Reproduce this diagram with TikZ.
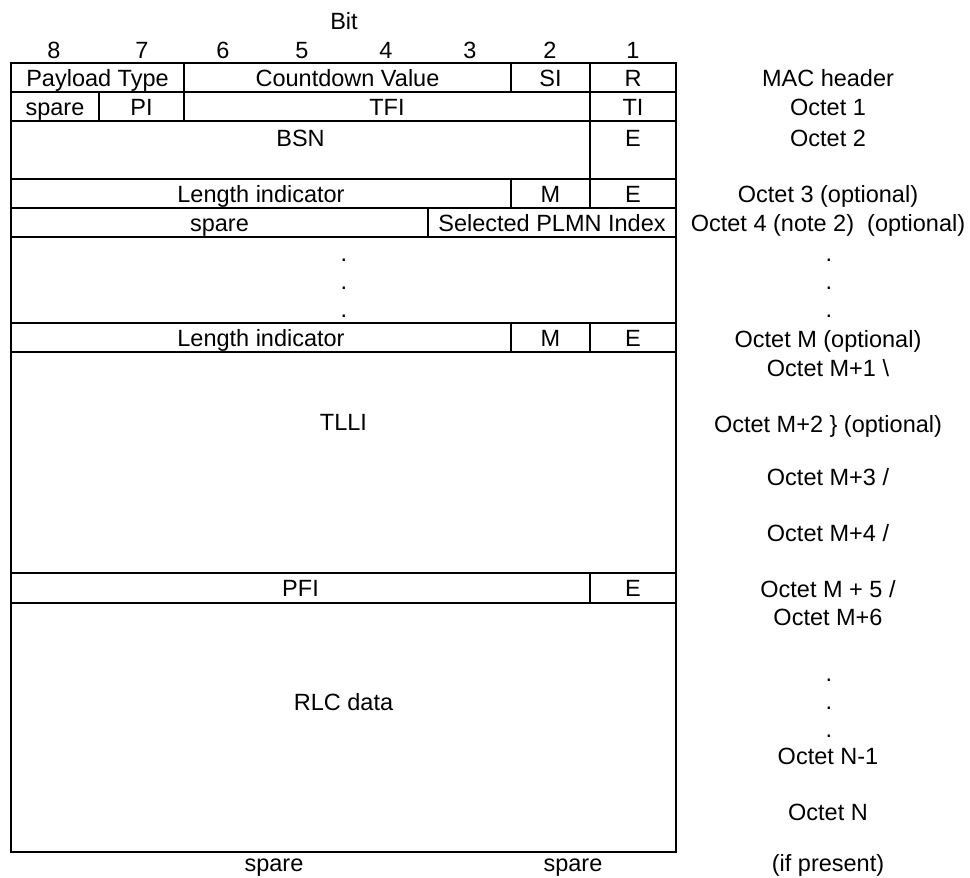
\documentclass[tikz,border=0pt]{standalone}
\usepackage{fontspec}
\setmainfont{Liberation Sans}
\begin{document}
\begin{tikzpicture}[x=1pt,y=-1pt,
  lbl/.style={font=\fontsize{23.5}{28}\selectfont, inner sep=0pt, anchor=base},
  gridline/.style={line width=1.5pt, line cap=rect}]
\fill[white] (0,0) rectangle (970,878);
\useasboundingbox (0,0) rectangle (970,878);
% frame and rows
\draw[gridline] (11,63) rectangle (676,852);
\foreach \yy in {92,121,179,208,237,323,352,573,603}
  \draw[gridline] (11,\yy) -- (676,\yy);
% vertical dividers
\foreach \xx in {184,511,590} \draw[gridline] (\xx,63) -- (\xx,92);
\foreach \xx in {99,184,590} \draw[gridline] (\xx,92) -- (\xx,121);
\draw[gridline] (590,121) -- (590,179);
\foreach \xx in {511,590} \draw[gridline] (\xx,179) -- (\xx,208);
\draw[gridline] (428,208) -- (428,237);
\foreach \xx in {511,590} \draw[gridline] (\xx,323) -- (\xx,352);
\draw[gridline] (590,573) -- (590,603);
% header
\node[lbl] (bit) at (344,30) {Bit};
\node[lbl] (b8) at (54,58.4) {8};
\node[lbl] (b7) at (142,58.4) {7};
\node[lbl] (b6) at (223,58.4) {6};
\node[lbl] (b5) at (302,58.4) {5};
\node[lbl] (b4) at (386,58.4) {4};
\node[lbl] (b3) at (470,58.4) {3};
\node[lbl] (b2) at (550,58.4) {2};
\node[lbl] (b1) at (633,58.4) {1};
% row 1
\node[lbl] (pt) at (97.5,86) {Payload Type};
\node[lbl] (cv) at (347.5,86) {Countdown Value};
\node[lbl] (si) at (550.5,86) {SI};
\node[lbl] (r) at (633,86) {R};
% row 2
\node[lbl] (sp1) at (55,115) {spare};
\node[lbl] (pi) at (141.5,115) {PI};
\node[lbl] (tfi) at (387,115) {TFI};
\node[lbl] (ti) at (633,115) {TI};
% row 3
\node[lbl] (bsn) at (300.5,146) {BSN};
\node[lbl] (e1) at (633,146) {E};
% row 4
\node[lbl] (li1) at (261,202) {Length indicator};
\node[lbl] (m1) at (550.5,202) {M};
\node[lbl] (e2) at (633,202) {E};
% row 5
\node[lbl] (sp2) at (219.5,231) {spare};
\node[lbl] (plmn) at (552,231) {Selected PLMN Index};
% dots
\node[lbl] (d1) at (344,261) {.};
\node[lbl] (d2) at (344,289) {.};
\node[lbl] (d3) at (344,317) {.};
% row 7
\node[lbl] (li2) at (261,346) {Length indicator};
\node[lbl] (m2) at (550.5,346) {M};
\node[lbl] (e3) at (633,346) {E};
% TLLI
\node[lbl] (tlli) at (343.5,430) {TLLI};
% PFI
\node[lbl] (pfi) at (300.5,596.5) {PFI};
\node[lbl] (e4) at (633,596.5) {E};
% RLC data
\node[lbl] (rlc) at (343.5,710) {RLC data};
% bottom
\node[lbl] (sp3) at (274,871) {spare};
\node[lbl] (sp4) at (573,871) {spare};
% right labels
\node[lbl] (o0) at (828,86) {MAC header};
\node[lbl] (o1) at (828,115) {Octet 1};
\node[lbl] (o2) at (828,146) {Octet 2};
\node[lbl] (o3) at (828,202) {Octet 3 (optional)};
\node[lbl] (o4) at (828,231) {Octet 4 (note 2)\ \ (optional)};
\node[lbl] (rd1) at (829,261) {.};
\node[lbl] (rd2) at (829,289) {.};
\node[lbl] (rd3) at (829,317) {.};
\node[lbl] (om) at (828,347) {Octet M (optional)};
\node[lbl] (om1) at (828,376) {Octet M+1 \textbackslash};
\node[lbl] (om2) at (828,432.5) {Octet M+2 \} (optional)};
\node[lbl] (om3) at (828,485.5) {Octet M+3 /};
\node[lbl] (om4) at (828,541) {Octet M+4 /};
\node[lbl] (om5) at (828,597.5) {Octet M + 5 /};
\node[lbl] (om6) at (828,625.5) {Octet M+6};
\node[lbl] (rd4) at (829,681) {.};
\node[lbl] (rd5) at (829,709) {.};
\node[lbl] (rd6) at (829,737) {.};
\node[lbl] (on1) at (828,764) {Octet N-1};
\node[lbl] (on) at (828,820) {Octet N};
\node[lbl] (ip) at (828,871) {(if present)};
\end{tikzpicture}
\end{document}
